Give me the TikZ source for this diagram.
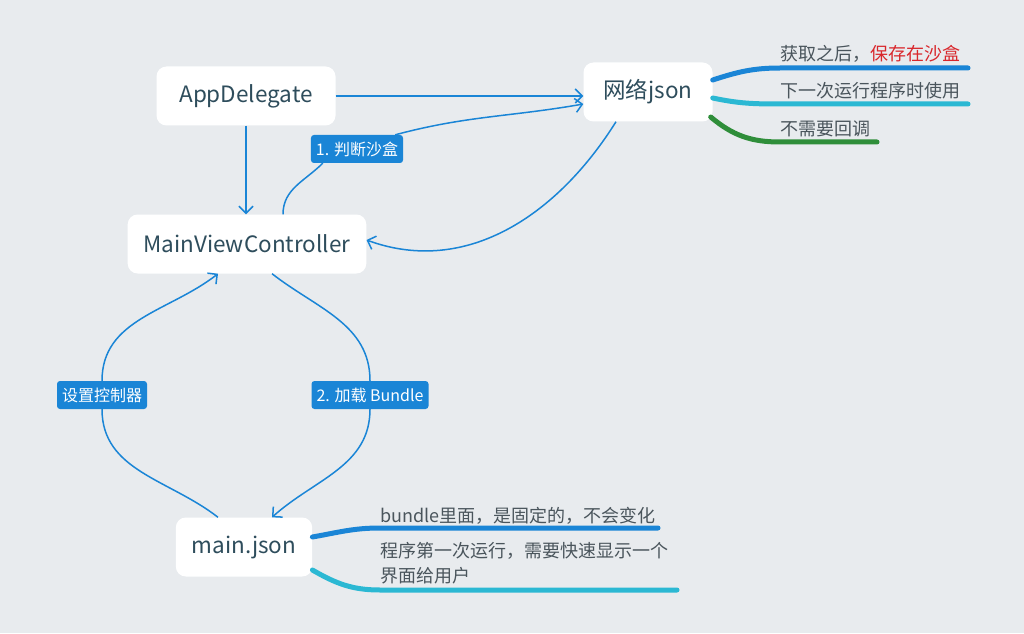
\documentclass[tikz,border=0pt]{standalone}
\usepackage{fontspec}
\setmainfont{Noto Sans CJK SC}
\usetikzlibrary{arrows,arrows.meta,positioning}
\definecolor{bgcol}{HTML}{E8EBEE}
\definecolor{lineblue}{HTML}{1A85D6}
\definecolor{linecyan}{HTML}{2BB8D3}
\definecolor{linegreen}{HTML}{2F8E3A}
\definecolor{nodetext}{HTML}{2E4D5C}
\definecolor{notetext}{HTML}{4A555C}
\definecolor{notered}{HTML}{D9262B}

\begin{document}
\begin{tikzpicture}[x=1pt,y=1pt,>={Straight Barb[length=7pt,width=14pt]},
    main node/.style={fill=white,rounded corners=10pt,inner xsep=16pt,minimum height=59pt,text=nodetext,font=\fontsize{22.5}{26}\selectfont},
    tag node/.style={fill=lineblue,rounded corners=3pt,inner xsep=5pt,minimum height=28pt,text=white,font=\fontsize{16}{20}\selectfont},
    note/.style={anchor=base west,inner sep=0pt,text=notetext,font=\fontsize{18}{25}\selectfont},
    link/.style={draw=lineblue,line width=1.5pt},
    branch/.style={line width=5pt,line cap=round}]
    \fill[bgcol] (0,0) rectangle (1024,633);
    % boxes
    \node[main node,minimum width=179pt] (app) at (246,537) {AppDelegate};
    \node[main node,minimum width=129pt] (net) at (648,541) {网络json};
    \node[main node,minimum width=237pt] (mvc) at (247,389) {MainViewController};
    \node[main node,minimum width=136pt] (mainj) at (244,86) {main.json};
    % tags on the links
    \node[tag node] (check) at (357,484) {1. 判断沙盒};
    \node[tag node] (setvc) at (102,238) {设置控制器};
    \node[tag node] (load) at (370,238) {2. 加载 Bundle};

    \draw[link,->] (app.east) -- (app.east -| net.west);
    \draw[link,->] (app.south) -- (app.south |- mvc.north);
    \draw[link] ([xshift=36pt]mvc.north) to[out=90,in=-135] ([xshift=12pt]check.south west);
    \draw[link,->] ([xshift=-8pt]check.north east) to[out=15,in=190] ([yshift=-12pt]net.west);
    \draw[link,->] ([xshift=-32pt]net.south) to[out=-122,in=-20] ([yshift=4pt]mvc.east);
    \draw[link] ([xshift=25pt]mvc.south) to[out=-38,in=90] (load.north);
    \draw[link,->] (load.south) to[out=-90,in=42] ([xshift=28pt]mainj.north);
    \draw[link] ([xshift=-26pt]mainj.north) to[out=142,in=-90] (setvc.south);
    \draw[link,->] (setvc.north) to[out=90,in=-142] ([xshift=-29pt]mvc.south);

    % notes of the json from the net
    \coordinate (n1) at (780,565);
    \coordinate (n2) at (780,529);
    \coordinate (n3) at (780,491);
    \draw[branch,lineblue] ([yshift=12pt]net.east) to[out=18,in=180] (n1) -- (968,565);
    \draw[branch,linecyan] ([yshift=-6pt]net.east) to[out=-12,in=180] (n2) -- (968,529);
    \draw[branch,linegreen] ([xshift=-2pt,yshift=-25pt]net.east) to[out=-40,in=180] (n3) -- (877,491);
    \node[note] (t1) at (780,572) {获取之后，\textcolor{notered}{保存在沙盒}};
    \node[note] (t2) at (780,535) {下一次运行程序时使用};
    \node[note] (t3) at (780,497) {不需要回调};

    % notes of main.json
    \coordinate (m1) at (380,105);
    \coordinate (m2) at (380,43);
    \draw[branch,lineblue] ([yshift=10pt]mainj.east) to[out=10,in=180] (m1) -- (658,105);
    \draw[branch,linecyan] ([yshift=-23pt]mainj.east) to[out=-30,in=180] (m2) -- (677,43);
    \node[note] (t4) at (380,111) {bundle里面，是固定的，不会变化};
    \node[note,anchor=north west,align=left] (t5) at (380,91) {程序第一次运行，需要快速显示一个\\界面给用户};
\end{tikzpicture}
\end{document}
